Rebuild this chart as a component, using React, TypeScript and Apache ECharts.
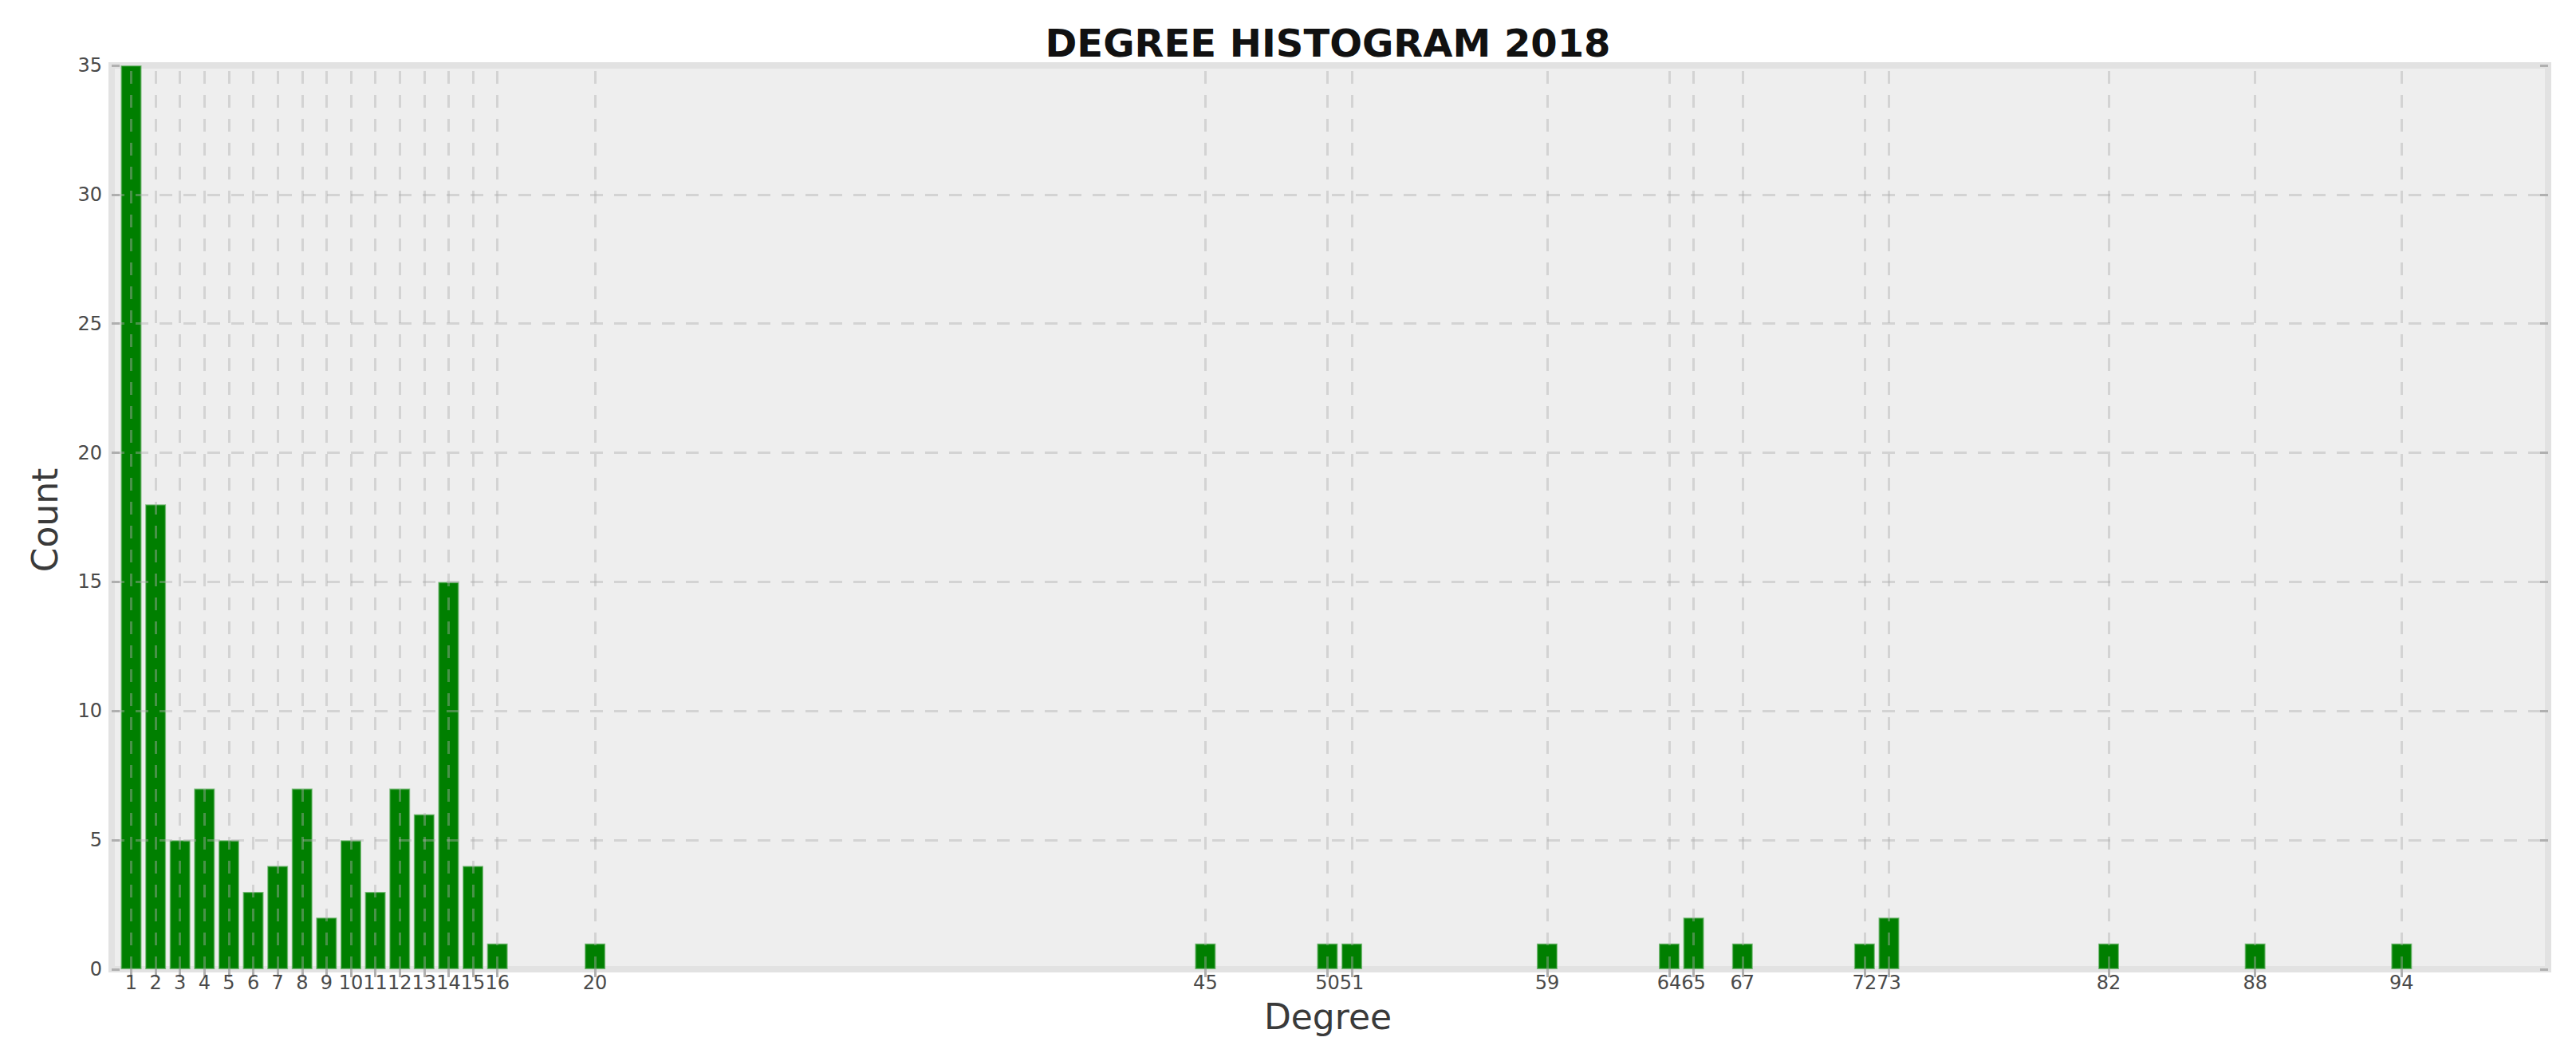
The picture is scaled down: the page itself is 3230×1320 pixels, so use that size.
import React, { useEffect, useRef } from "react";
import * as echarts from "echarts";

const degrees = [1, 2, 3, 4, 5, 6, 7, 8, 9, 10, 11, 12, 13, 14, 15, 16, 20, 45, 50, 51, 59, 64, 65, 67, 72, 73, 82, 88, 94];
const counts = [35, 18, 5, 7, 5, 3, 4, 7, 2, 5, 3, 7, 6, 15, 4, 1, 1, 1, 1, 1, 1, 1, 2, 1, 1, 2, 1, 1, 1];
const xTickLabels = degrees;
const yTicks = [0, 5, 10, 15, 20, 25, 30, 35];

const titleText = "DEGREE HISTOGRAM 2018";
const xName = "Degree";
const yName = "Count";

const FONT = "DejaVu Sans";
const X_MIN = 0.2;
const X_MAX = 100;

export default function App() {
  const ref = useRef<HTMLDivElement>(null);
  useEffect(() => {
    if (!ref.current) return;
    const chart = echarts.init(ref.current, null, { renderer: "svg" });
    const tickStyle = { color: "#b0b0b0", width: 3 };
    const option: any = {
      animation: false,
      backgroundColor: "#ffffff",
      grid: {
        left: 140,
        right: 35,
        top: 82,
        bottom: 105,
        show: true,
        backgroundColor: "#eeeeee",
        borderColor: "#e2e2e2",
        borderWidth: 8,
      },
      graphic: [
        {
          type: "text",
          x: 1665,
          y: 54,
          style: {
            text: titleText,
            font: `bold 48px "${FONT}"`,
            fill: "#111111",
            align: "center",
            verticalAlign: "middle",
          },
        },
        {
          type: "text",
          x: 1665,
          y: 1274,
          style: {
            text: xName,
            font: `44px "${FONT}"`,
            fill: "#3a3a3a",
            align: "center",
            verticalAlign: "middle",
          },
        },
        {
          type: "text",
          x: 56,
          y: 652,
          rotation: Math.PI / 2,
          style: {
            text: yName,
            font: `44px "${FONT}"`,
            fill: "#3a3a3a",
            align: "center",
            verticalAlign: "middle",
          },
        },
      ],
      xAxis: [
        {
          type: "value",
          min: X_MIN,
          max: X_MAX,
          position: "bottom",
          axisLine: { show: false },
          axisTick: { show: true, inside: true, length: 10, customValues: xTickLabels, lineStyle: tickStyle },
          axisLabel: {
            show: true,
            customValues: xTickLabels,
            fontSize: 24,
            fontFamily: FONT,
            color: "#4a4a4a",
            margin: 5,
          },
          splitLine: { show: false },
        },
        {
          type: "value",
          min: X_MIN,
          max: X_MAX,
          position: "top",
          axisLine: { show: false },
          axisTick: { show: true, inside: true, length: 10, customValues: xTickLabels, lineStyle: tickStyle },
          axisLabel: { show: false },
          splitLine: { show: false },
        },
      ],
      yAxis: [
        {
          type: "value",
          min: 0,
          max: 35,
          interval: 5,
          position: "left",
          axisLine: { show: false },
          axisTick: { show: true, inside: true, length: 10, lineStyle: tickStyle },
          axisLabel: { fontSize: 24, fontFamily: FONT, color: "#4a4a4a", margin: 12 },
          splitLine: { show: false },
        },
        {
          type: "value",
          min: 0,
          max: 35,
          interval: 5,
          position: "right",
          axisLine: { show: false },
          axisTick: { show: true, inside: true, length: 10, lineStyle: tickStyle },
          axisLabel: { show: false },
          splitLine: { show: false },
        },
      ],
      series: [
        {
          type: "bar",
          xAxisIndex: 0,
          yAxisIndex: 0,
          data: degrees.map((d, i) => [d, counts[i]]),
          barWidth: 26,
          barMaxWidth: 26,
          barCategoryGap: "0%",
          itemStyle: {
            color: "#007f00",
            borderColor: "rgba(40,150,40,0.55)",
            borderWidth: 2,
          },
          markLine: {
            silent: true,
            symbol: ["none", "none"],
            label: { show: false },
            lineStyle: { type: [16, 14], color: "rgba(175,175,175,0.42)", width: 3 },
            data: [
              ...xTickLabels.map((d) => ({ xAxis: d })),
              ...yTicks.filter((v) => v > 0 && v < 35).map((v) => ({ yAxis: v })),
            ],
          },
        },
      ],
    };
    chart.setOption(option);
    return () => chart.dispose();
  }, []);
  return (
    <div
      ref={ref}
      style={{ position: "fixed", left: 0, top: 0, width: 3230, height: 1320 }}
    />
  );
}
